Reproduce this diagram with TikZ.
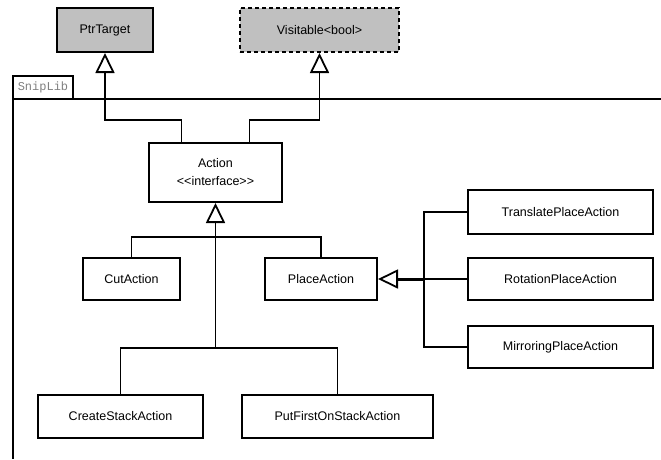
\documentclass[tikz,border=0pt]{standalone}
\usepackage{fontspec}
\setmainfont{Liberation Sans}
\setmonofont{Liberation Mono}
\usepackage{tikz}
\usetikzlibrary{arrows.meta}
\definecolor{boxgray}{RGB}{192,192,192}

\begin{document}
\begin{tikzpicture}[x=1pt,y=-1pt,
    every node/.style={font=\fontsize{12.5}{18}\selectfont},
    cls/.style={draw,line width=2pt,inner sep=0pt,align=center},
    ext/.style={cls,fill=boxgray},
    con/.style={line width=1.8pt},
    inh/.style={con,-{Triangle[open,length=20pt,width=19pt,line width=1.8pt]}}]
                \useasboundingbox (0,0) rectangle (661,459);
                % package frame
                \node[draw,line width=1.6pt,minimum width=60pt,minimum height=23pt,inner sep=0pt,
                      text=gray,font=\ttfamily\fontsize{12}{12}\selectfont] (pkg) at (43,87.5){SnipLib};
                \draw[line width=2pt](13,99)--(661,99);
                \draw[line width=2pt](13,76)--(13,459);
                % external classes
                \node[ext,minimum width=96pt,minimum height=44pt] (ptr) at (105,30){PtrTarget};
                \node[ext,dash pattern=on 4pt off 3pt,minimum width=159pt,minimum height=44pt] (visit) at (319.5,30){Visitable<bool>};
                % classes
                \node[cls,minimum width=133pt,minimum height=59pt] (action) at (215.5,172.5){Action\\<{}<interface>{}>};
                \node[cls,minimum width=97pt,minimum height=42pt] (cut) at (131.5,279){CutAction};
                \node[cls,minimum width=112pt,minimum height=42pt] (place) at (321,279){PlaceAction};
                \node[cls,minimum width=165pt,minimum height=43pt] (create) at (120.5,416.5){CreateStackAction};
                \node[cls,minimum width=191pt,minimum height=43pt] (putfirst) at (337.5,416.5){PutFirstOnStackAction};
                \node[cls,minimum width=185pt,minimum height=44pt] (translate) at (560.5,212){TranslatePlaceAction};
                \node[cls,minimum width=185pt,minimum height=42pt] (rotation) at (560.5,279){RotationPlaceAction};
                \node[cls,minimum width=185pt,minimum height=42pt] (mirror) at (560.5,347){MirroringPlaceAction};
                % inheritance
                \draw[inh]([xshift=-34pt]action.north)--++(0,-22)-|(ptr.south);
                \draw[inh]([xshift=34pt]action.north)--++(0,-22)-|(visit.south);
                \coordinate (split) at (215.5,237);
                \coordinate (split2) at (215.5,348);
                \coordinate (bus) at (424,279);
                \draw[con](cut.north)|-(split)-|(place.north);
                \draw[con](create.north)|-(split2)-|(putfirst.north);
                \draw[inh](split2)--(action.south);
                \draw[con](translate.west)-|(bus|-mirror.west)--(mirror.west);
                \draw[con](rotation.west)--(bus);
                \draw[con,line width=3pt,-{Triangle[open,length=20pt,width=19pt,line width=1.8pt]}](bus)--(place.east);
            \end{tikzpicture}
\end{document}
